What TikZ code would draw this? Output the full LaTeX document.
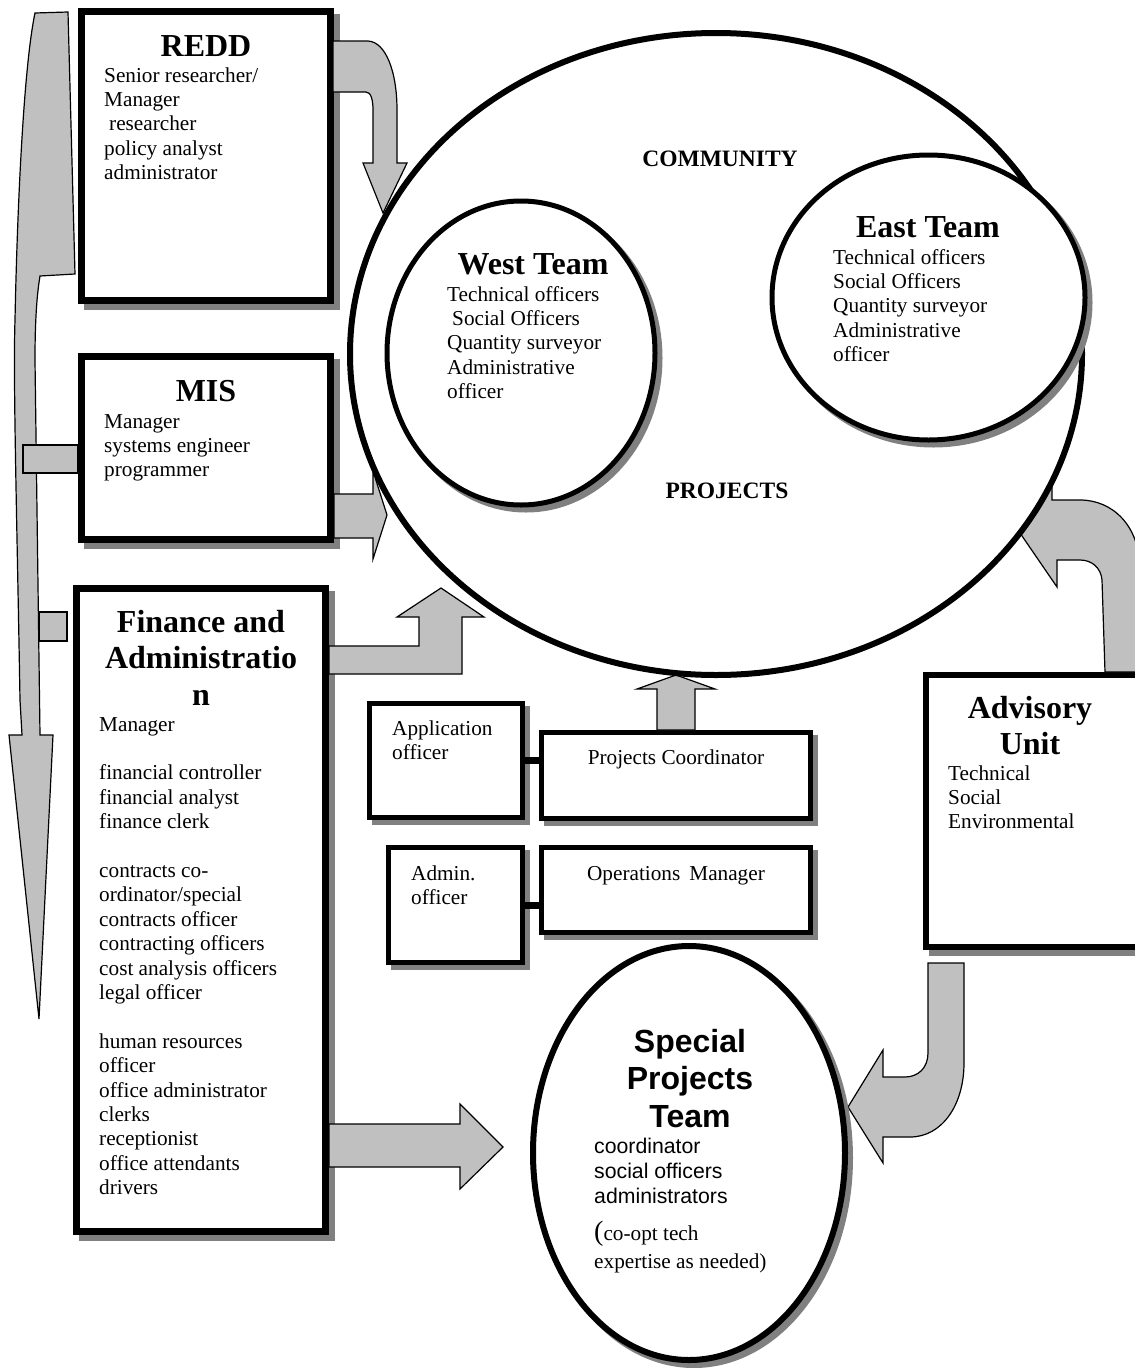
\documentclass[tikz,border=0pt]{standalone}
\usepackage{fontspec}
\setmainfont{Liberation Serif}
\newfontfamily\sansfam{Liberation Sans}
\usetikzlibrary{shapes.geometric,backgrounds}
\definecolor{bandgray}{RGB}{192,192,192}
\definecolor{shadegray}{RGB}{128,128,128}
\newcommand{\bodyfont}{\fontsize{21.25}{24.4}\selectfont}
\newcommand{\headfont}{\fontsize{32}{36.6}\selectfont\bfseries}
\begin{document}
% multi-line text nodes are placed by the baseline of their last line
\begin{tikzpicture}[x=1pt,y=-1pt,
  unitbox/.style={draw, fill=white, line width=7pt, rectangle, inner sep=0pt},
  smallbox/.style={draw, fill=white, line width=5pt, rectangle, inner sep=0pt},
  team/.style={draw, fill=white, ellipse, inner sep=0pt},
  band/.style={fill=bandgray, draw=black, line width=1.2pt, line join=miter},
  link/.style={draw=black, line width=7pt},
  heading/.style={font=\headfont, anchor=base, inner sep=0pt, align=center},
  body/.style={font=\bodyfont, anchor=base west, inner sep=0pt, align=left},
  label/.style={font=\bodyfont, anchor=base, inner sep=0pt},
  zone/.style={font=\fontsize{23.5}{26}\selectfont\bfseries, anchor=base, inner sep=0pt}]

\useasboundingbox (0,0) rectangle (1135,1368);
\begin{scope}[on background layer]
  \fill[white] (0,0) rectangle (1135,1368);
\end{scope}

% ---------- unit boxes ----------
\node[unitbox, minimum width=249pt, minimum height=289pt] (redd) at (206,156) {};
\node[unitbox, minimum width=249pt, minimum height=183pt] (mis) at (206,448) {};
\node[unitbox, minimum width=249pt, minimum height=643pt] (fin) at (201,910) {};
\node[unitbox, line width=6pt, minimum width=216pt, minimum height=272pt] (adv) at (1034,811) {};
\node[smallbox, minimum width=153pt, minimum height=114pt] (appl) at (446,760.5) {};
\node[smallbox, minimum width=269pt, minimum height=86pt] (pc) at (676,775.5) {};
\node[smallbox, minimum width=134pt, minimum height=115pt] (adm) at (455.5,905) {};
\node[smallbox, minimum width=269pt, minimum height=85pt] (ops) at (676,890) {};

% drop shadows of the boxes
\begin{scope}[on background layer]
  \foreach \b in {redd,mis,fin,adv}
    \fill[shadegray] ([shift={(6,6)}]\b.north west) rectangle ([shift={(6,6)}]\b.south east);
  \foreach \b in {appl,pc,adm,ops}
    \fill[shadegray] ([shift={(5,5)}]\b.north west) rectangle ([shift={(5,5)}]\b.south east);
\end{scope}

% links between the small boxes
\draw[link] (appl.east) -- (appl.east -| pc.west);
\draw[link] (adm.east) -- (adm.east -| ops.west);

% ---------- block arrows ----------
% long arrow down the left side
\draw[band] (35,13) -- (68,12) -- (75,274) -- (40,276)
  .. controls (36,300) and (35,330) .. (35,360) -- (40,735) -- (53,735)
  -- (39,1019) -- (9,735) -- (22,735) -- (20,700)
  .. controls (17,520) and (13,380) .. (15,320)
  .. controls (17,220) and (23,70) .. (35,13) -- cycle;
\draw[band] (23,445) rectangle (78,473);
\draw[band] (39,612) rectangle (67,641);

% REDD to community
\draw[band] (333,41) -- (368,41) .. controls (386,42) and (397,72) .. (397,110)
  -- (397,163) -- (407,163) -- (383,213) -- (363,163) -- (373,163) -- (373,110)
  .. controls (373,100) and (371,92) .. (366,92) -- (333,92) -- cycle;

% MIS to community
\draw[band] (334,494) -- (373,494) -- (373,471) -- (387,515) -- (373,559)
  -- (373,538) -- (334,538) -- cycle;

% Finance to community
\draw[band] (329,646) -- (419,646) -- (419,617) -- (397,617) -- (441,588)
  -- (484,617) -- (462,617) -- (462,674) -- (329,674) -- cycle;

% Projects Coordinator to community
\draw[band] (657,730) -- (657,689) -- (637,689) -- (676,675) -- (715,689)
  -- (695,689) -- (695,730) -- cycle;

% Finance to Special Projects Team
\draw[band] (329,1124) -- (460,1124) -- (460,1104) -- (503,1147) -- (460,1189)
  -- (460,1167) -- (329,1167) -- cycle;

% Advisory Unit to community
\draw[band] (1105,672) -- (1102,580) .. controls (1101,568) and (1092,560) .. (1080,560)
  -- (1057,560) -- (1057,587) -- (1020,533) -- (1052,483) -- (1052,500) -- (1080,500)
  .. controls (1112,500) and (1140,525) .. (1140,570) -- (1140,672) -- cycle;

% Advisory Unit to Special Projects Team
\draw[band] (928,963) -- (928,1053) .. controls (928,1068) and (918,1077) .. (905,1077)
  -- (883,1077) -- (883,1050) -- (848,1107) -- (883,1163) -- (883,1137) -- (910,1137)
  .. controls (942,1137) and (964,1105) .. (964,1063) -- (964,963) -- cycle;

% ---------- community and teams ----------
\node[team, line width=6pt, minimum width=732pt, minimum height=642pt] (comm) at (716,354) {};
\fill[shadegray] (526,358) ellipse [x radius=136.5pt, y radius=154.5pt];
\node[team, line width=5pt, minimum width=268pt, minimum height=304pt] (west) at (521,353) {};
\fill[shadegray] (933.5,302.5) ellipse [x radius=159pt, y radius=145pt];
\node[team, line width=5pt, minimum width=313pt, minimum height=285pt] (east) at (928.5,297.5) {};
\fill[shadegray] (694,1158) ellipse [x radius=159pt, y radius=210pt];
\node[team, line width=6pt, minimum width=312pt, minimum height=414pt] (spt) at (689,1153) {};

% ---------- texts ----------
\node[heading] (reddT) at (206,56) {REDD};
\node[body] (reddL) at (104,179.6) {Senior researcher/\\Manager\\\hspace*{5pt}researcher\\policy analyst\\administrator};

\node[heading] (misT) at (206,401) {MIS};
\node[body] (misL) at (104,476.8) {Manager\\systems engineer\\programmer};

\node[heading] (finT) at (201,705.2) {Finance and\\Administratio\\n};
\node[body] (finL) at (99,1194.6) {Manager\\[24.4pt]financial controller\\financial analyst\\finance clerk\\[24.4pt]contracts co-\\ordinator/special\\contracts officer\\contracting officers\\cost analysis officers\\legal officer\\[24.4pt]human resources\\officer\\office administrator\\clerks\\receptionist\\office attendants\\drivers};

\node[heading] (advT) at (1030,754.6) {Advisory\\Unit};
\node[body] (advL) at (948,828.8) {Technical\\Social\\Environmental};

\node[body] (applL) at (392,759.4) {Application\\officer};
\node[body] (admL) at (411,904.4) {Admin.\\officer};
\node[label] (pcL) at (676,764) {Projects Coordinator};
\node[label] (opsL) at (676,880) {Operations\hspace{9pt}Manager};

\node[zone] (commL) at (720,166) {COMMUNITY};
\node[zone] (projL) at (727,498) {PROJECTS};

\node[heading] (westT) at (533,274) {West Team};
\node[body] (westL) at (447,398.6) {Technical officers\\\hspace*{5pt}Social Officers\\Quantity surveyor\\Administrative\\officer};

\node[heading] (eastT) at (928,237) {East Team};
\node[body] (eastL) at (833,361.6) {Technical officers\\Social Officers\\Quantity surveyor\\Administrative\\officer};

\node[heading, font=\sansfam\fontsize{32}{37.5}\selectfont\bfseries] (sptT) at (690,1127) {Special\\Projects\\Team};
\node[body, font=\sansfam\fontsize{21.25}{25}\selectfont] (sptL) at (594,1203) {coordinator\\social officers\\administrators};
\node[body, font=\fontsize{21.25}{28.5}\selectfont] (sptN) at (594,1268.5) {{\fontsize{28}{28}\selectfont(}co-opt tech\\expertise as needed)};

\end{tikzpicture}
\end{document}
